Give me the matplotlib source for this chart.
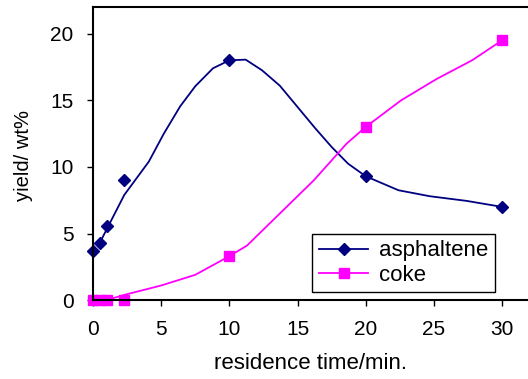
import matplotlib.pyplot as plt
from matplotlib.lines import Line2D

plt.rcParams['font.family'] = ['Liberation Sans', 'DejaVu Sans']

# measured points
t_meas = [0, 0.5, 1, 2.3, 10, 20, 30]
asph_meas = [3.7, 4.3, 5.55, 9.0, 18.0, 9.3, 7.0]
coke_meas = [0, 0, 0, 0, 3.3, 13.0, 19.5]

# trend curves
t_asph_fit = [0.5, 1, 2.3, 4.1, 5.2, 6.4, 7.5, 8.8, 10, 11.2, 12.4, 13.7,
              16.3, 17.5, 18.7, 20, 22.4, 24.7, 27.4, 30]
asph_fit = [4.3, 5.3, 7.9, 10.4, 12.5, 14.55, 16.05, 17.4, 18.0, 18.05, 17.25, 16.1,
            12.9, 11.5, 10.25, 9.3, 8.25, 7.8, 7.45, 7.0]
t_coke_fit = [1, 2.2, 5, 7.5, 10, 11.3, 13.7, 16.2, 18.6, 20, 22.6, 25.2, 27.8, 30]
coke_fit = [0, 0.37, 1.1, 1.9, 3.3, 4.1, 6.5, 9.0, 11.75, 13.0, 15.0, 16.6, 18.0, 19.5]

navy = '#000080'
pink = '#FF00FF'

fig = plt.figure(figsize=(5.28, 3.79), dpi=100)
ax = fig.add_axes([0.176, 0.208, 0.824, 0.7735])

ax.plot(t_asph_fit, asph_fit, color=navy, lw=1.3)
ax.plot(t_meas, asph_meas, 'D', color=navy, ms=6, ls='none', clip_on=False)
ax.plot(t_coke_fit, coke_fit, color=pink, lw=1.3)
ax.plot(t_meas, coke_meas, 's', color=pink, ms=6.5, ls='none', clip_on=False)

ax.set_xlim(0, 31.9)
ax.set_ylim(0, 22)
ax.set_xticks([0, 5, 10, 15, 20, 25, 30])
ax.set_yticks([0, 5, 10, 15, 20])
ax.tick_params(direction='out', length=4, width=1, labelsize=15, pad=10)
for s in ['left', 'bottom', 'top']:
    ax.spines[s].set_linewidth(1.5)
ax.spines['right'].set_visible(False)

ax.set_xlabel('residence time/min.', fontsize=16)
ax.set_ylabel('yield/ wt%', fontsize=14.5)
ax.xaxis.set_label_coords(0.499, -0.18)
ax.yaxis.set_label_coords(-0.138, 0.493)

handles = [Line2D([], [], color=navy, lw=1.3, marker='D', ms=6),
           Line2D([], [], color=pink, lw=1.3, marker='s', ms=6.5)]
leg = ax.legend(handles, ['asphaltene', 'coke'], loc='lower right',
                bbox_to_anchor=(0.9375, 0.2287), bbox_transform=fig.transFigure,
                borderaxespad=0, fancybox=False, framealpha=1, edgecolor='black',
                fontsize=16, handlelength=2.2, handletextpad=0.5,
                borderpad=0.3, labelspacing=0.15)
leg.get_frame().set_linewidth(1)

fig.savefig('out.png', dpi=100)
